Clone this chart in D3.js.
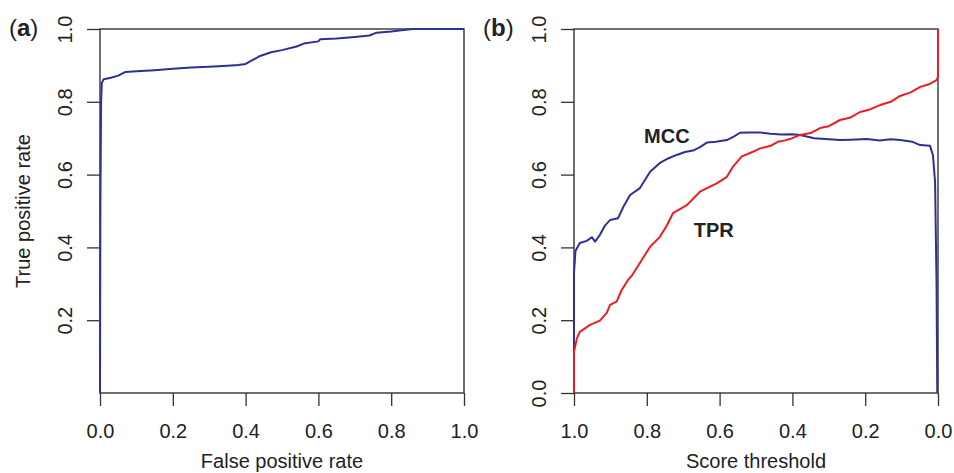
<!DOCTYPE html>
<html>
<head>
<meta charset="utf-8">
<script src="https://cdn.jsdelivr.net/npm/d3@7"></script>
<style>
  body { margin: 0; background: #fff; }
  text { font-family: "Liberation Sans", Arial, Helvetica, sans-serif; fill: #222; }
</style>
</head>
<body>
<div id="chart"></div>
<script>
// ROC curve, panel (a): [false positive rate, true positive rate]
var rocPoints = [
  [0, 0], [0.001, 0.5], [0.003, 0.80], [0.005, 0.852], [0.01, 0.862], [0.03, 0.866],
  [0.05, 0.872], [0.07, 0.882], [0.10, 0.884], [0.15, 0.887], [0.20, 0.891],
  [0.25, 0.894], [0.30, 0.896], [0.35, 0.899], [0.38, 0.901], [0.40, 0.904],
  [0.42, 0.915], [0.44, 0.926], [0.47, 0.936], [0.50, 0.942], [0.54, 0.952],
  [0.56, 0.96], [0.60, 0.966], [0.605, 0.972], [0.65, 0.974], [0.70, 0.978],
  [0.74, 0.982], [0.76, 0.99], [0.80, 0.993], [0.84, 0.998], [0.86, 1.0], [1.0, 1.0]
];

// panel (b): [score threshold, value]
var mccPoints = [
  [1.0, 0], [1.0, 0.33], [0.996, 0.39], [0.984, 0.412], [0.965, 0.418], [0.951, 0.428],
  [0.942, 0.416], [0.929, 0.434], [0.915, 0.46], [0.901, 0.475], [0.879, 0.48],
  [0.865, 0.51], [0.846, 0.544], [0.819, 0.563], [0.805, 0.585], [0.791, 0.608],
  [0.764, 0.632], [0.74, 0.645], [0.718, 0.654], [0.695, 0.662], [0.673, 0.666],
  [0.655, 0.675], [0.635, 0.688], [0.61, 0.69], [0.58, 0.695], [0.56, 0.705],
  [0.544, 0.715], [0.52, 0.716], [0.489, 0.716], [0.46, 0.712], [0.43, 0.71],
  [0.40, 0.711], [0.379, 0.709], [0.34, 0.70], [0.30, 0.697], [0.269, 0.695],
  [0.24, 0.696], [0.195, 0.698], [0.16, 0.694], [0.13, 0.697], [0.104, 0.695],
  [0.07, 0.69], [0.049, 0.681], [0.022, 0.679], [0.014, 0.654], [0.008, 0.58],
  [0.004, 0.3], [0.002, 0.0]
];

var tprPoints = [
  [1.0, 0], [1.0, 0.113], [0.992, 0.15], [0.984, 0.168], [0.956, 0.187],
  [0.929, 0.199], [0.91, 0.22], [0.901, 0.242], [0.883, 0.251], [0.869, 0.283],
  [0.852, 0.31], [0.84, 0.324], [0.819, 0.357], [0.791, 0.402], [0.764, 0.429],
  [0.745, 0.46], [0.728, 0.494], [0.69, 0.516], [0.654, 0.553], [0.608, 0.576],
  [0.58, 0.594], [0.563, 0.622], [0.539, 0.65], [0.51, 0.662], [0.489, 0.672],
  [0.46, 0.679], [0.44, 0.69], [0.42, 0.694], [0.40, 0.70], [0.379, 0.709],
  [0.35, 0.714], [0.324, 0.728], [0.30, 0.733], [0.269, 0.75], [0.24, 0.757],
  [0.214, 0.772], [0.19, 0.778], [0.159, 0.791], [0.13, 0.80], [0.104, 0.816],
  [0.075, 0.826], [0.049, 0.841], [0.025, 0.848], [0.003, 0.86], [0.0, 0.87], [0.0, 1.0]
];

var xTicks = [0, 0.2, 0.4, 0.6, 0.8, 1.0];
var yTicksA = [0.2, 0.4, 0.6, 0.8, 1.0];
var yTicksB = [0, 0.2, 0.4, 0.6, 0.8, 1.0];

var width = 954;
var height = 473;
var blue = "#2e3192";
var red = "#ed1c24";
var top0 = 29, bottom0 = 393;

var svg = d3.select("#chart").append("svg")
  .attr("width", width)
  .attr("height", height);

svg.append("rect")
  .attr("width", width)
  .attr("height", height)
  .style("fill", "#fff");

function panel(left, right, xDomain, yTicks, xTitle, yTitle, tag) {
  var x = d3.scaleLinear().domain(xDomain).range([left, right]);
  var y = d3.scaleLinear().domain([0, 1]).range([bottom0, top0]);

  var xAxis = d3.axisBottom(x).tickValues(xTicks).tickFormat(d3.format(".1f"))
    .tickSize(13).tickPadding(18).tickSizeOuter(0);
  var gx = svg.append("g").attr("transform", "translate(0," + bottom0 + ")").call(xAxis);
  gx.select(".domain").remove();
  gx.selectAll("line").style("stroke", "#333").style("stroke-width", 1.3);
  gx.selectAll("text").style("font-size", "20px").style("fill", "#222")
    .style("font-family", "'Liberation Sans', Arial, sans-serif");

  var yAxis = d3.axisLeft(y).tickValues(yTicks).tickFormat(d3.format(".1f"))
    .tickSize(13).tickPadding(0).tickSizeOuter(0);
  var gy = svg.append("g").attr("transform", "translate(" + left + ",0)").call(yAxis);
  gy.select(".domain").remove();
  gy.selectAll("line").style("stroke", "#333").style("stroke-width", 1.3);
  gy.selectAll("text")
    .attr("x", null).attr("dy", null)
    .attr("transform", "translate(-28,0) rotate(-90)")
    .attr("text-anchor", "middle")
    .style("font-size", "20px").style("fill", "#222")
    .style("font-family", "'Liberation Sans', Arial, sans-serif");

  svg.append("rect")
    .attr("x", left).attr("y", top0)
    .attr("width", right - left).attr("height", bottom0 - top0)
    .style("fill", "none").style("stroke", "#333").style("stroke-width", 1.4);

  svg.append("text")
    .attr("x", (left + right) / 2).attr("y", 468)
    .attr("text-anchor", "middle")
    .style("font-size", "20px")
    .text(xTitle);

  if (yTitle)
    svg.append("text")
      .attr("transform", "translate(30," + (top0 + bottom0) / 2 + ") rotate(-90)")
      .attr("text-anchor", "middle")
      .style("font-size", "20px")
      .text(yTitle);

  var t = svg.append("text")
    .attr("x", left - 91).attr("y", 36)
    .style("font-size", "24px");
  t.append("tspan").text("(");
  t.append("tspan").style("font-weight", "bold").text(tag);
  t.append("tspan").text(")");

  return { x: x, y: y };
}

var a = panel(100, 464, [0, 1], yTicksA, "False positive rate", "True positive rate", "a");
var b = panel(574, 938, [1, 0], yTicksB, "Score threshold", null, "b");

function drawLine(sc, pts, color) {
  var line = d3.line()
    .x(function(d) { return sc.x(d[0]); })
    .y(function(d) { return sc.y(d[1]); });
  svg.append("path")
    .datum(pts)
    .attr("d", line)
    .style("fill", "none")
    .style("stroke", color)
    .style("stroke-width", 2)
    .style("stroke-linejoin", "round");
}

drawLine(a, rocPoints, blue);
drawLine(b, mccPoints, blue);
drawLine(b, tprPoints, red);

svg.append("text")
  .attr("x", b.x(0.745)).attr("y", 143)
  .attr("text-anchor", "middle")
  .style("font-size", "20px").style("font-weight", "bold")
  .text("MCC");

svg.append("text")
  .attr("x", b.x(0.616)).attr("y", 237)
  .attr("text-anchor", "middle")
  .style("font-size", "20px").style("font-weight", "bold")
  .text("TPR");
</script>
</body>
</html>
